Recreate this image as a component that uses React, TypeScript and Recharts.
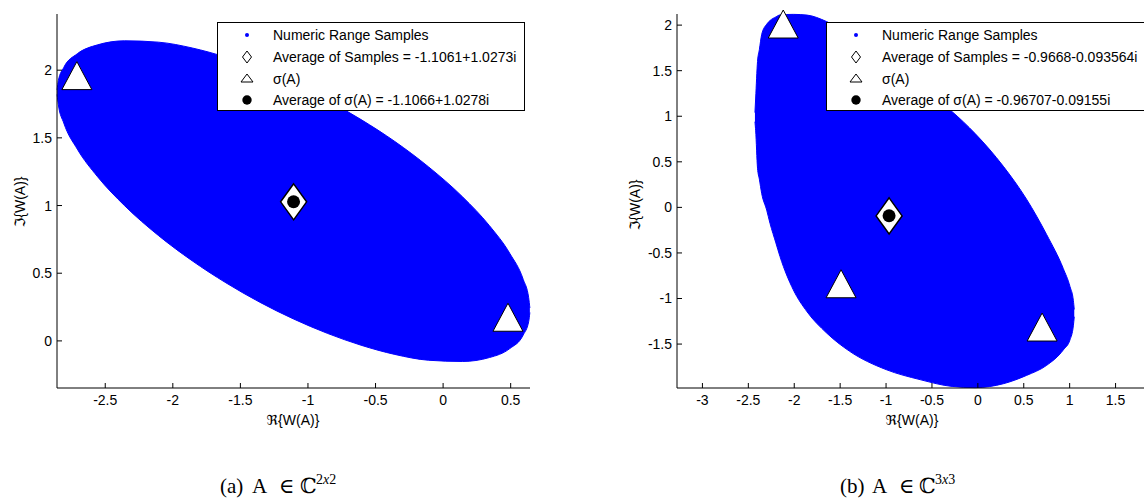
import React from 'react';
import { ComposedChart, Area, Scatter, XAxis, YAxis, Legend } from 'recharts';

// ---------------- Panel (a): A in C^{2x2} ----------------
const rangeAx = [-2.856, -2.847, -2.807, -2.707, -2.557, -2.357, -2.107, -1.857, -1.607, -1.357, -1.107, -0.857, -0.607, -0.357, -0.107, 0.143, 0.343, 0.493, 0.593, 0.633, 0.642];
const rangeAlow = [1.821, 1.744, 1.61, 1.417, 1.213, 0.999, 0.779, 0.592, 0.429, 0.286, 0.162, 0.056, -0.032, -0.1, -0.143, -0.152, -0.123, -0.057, 0.044, 0.141, 0.21];
const rangeAhigh = [1.854, 1.923, 2.02, 2.121, 2.187, 2.217, 2.207, 2.164, 2.096, 2.008, 1.902, 1.778, 1.635, 1.473, 1.285, 1.065, 0.851, 0.647, 0.454, 0.32, 0.243];
const eigAre = [-2.71, 0.48];
const eigAim = [1.945, 0.16];
const avgSamplesA = [-1.1061, 1.0273];
const avgEigA = [-1.1066, 1.0278];
const xTicksA = [-2.5, -2, -1.5, -1, -0.5, 0, 0.5];
const yTicksA = [0, 0.5, 1, 1.5, 2];
const xDomainA = [-2.857, 0.643];
const yDomainA = [-0.348, 2.415];
const legendLabelsA = [
  'Numeric Range Samples',
  'Average of Samples = -1.1061+1.0273i',
  'σ(A)',
  'Average of σ(A) = -1.1066+1.0278i',
];

// ---------------- Panel (b): A in C^{3x3} ----------------
const rangeBx = [-2.428, -2.42, -2.4, -2.38, -2.354, -2.3, -2.264, -2.2, -2.155, -2.01, -1.86, -1.65, -1.4, -1.0, -0.63, -0.28, -0.03, 0.278, 0.53, 0.75, 0.93, 1.004, 1.04, 1.05];
const rangeBlow = [0.94, 0.84, 0.43, 0.31, 0.15, -0.03, -0.175, -0.39, -0.54, -0.905, -1.146, -1.376, -1.577, -1.78, -1.89, -1.965, -1.978, -1.935, -1.844, -1.733, -1.565, -1.452, -1.3, -1.2];
const rangeBhigh = [1.04, 1.2, 1.6, 1.73, 1.9, 2.01, 2.05, 2.09, 2.112, 2.118, 2.11, 2.04, 1.9, 1.6, 1.32, 1.05, 0.81, 0.45, 0.09, -0.3, -0.67, -0.87, -1.02, -1.12];
const eigBre = [-2.12, -1.49, 0.7];
const eigBim = [1.99, -0.86, -1.335];
const avgSamplesB = [-0.9668, -0.093564];
const avgEigB = [-0.96707, -0.09155];
const xTicksB = [-3, -2.5, -2, -1.5, -1, -0.5, 0, 0.5, 1, 1.5];
const yTicksB = [-1.5, -1, -0.5, 0, 0.5, 1, 1.5, 2];
const xDomainB = [-3.277, 1.875];
const yDomainB = [-1.982, 2.122];
const legendLabelsB = [
  'Numeric Range Samples',
  'Average of Samples = -0.9668-0.093564i',
  'σ(A)',
  'Average of σ(A) = -0.96707-0.09155i',
];

const FONT = '"Liberation Sans", Arial, "DejaVu Sans", sans-serif';
const BLUE = '#0000ff';

const Triangle = (p: any) => {
  const { cx, cy } = p;
  return (
    <path
      d={`M${cx},${cy - 16} L${cx + 15},${cy + 12} L${cx - 15},${cy + 12} Z`}
      fill="#fff"
      stroke="#000"
      strokeWidth={1}
    />
  );
};

const Diamond = (p: any) => {
  const { cx, cy } = p;
  return (
    <path
      d={`M${cx},${cy - 18} L${cx + 13},${cy} L${cx},${cy + 18} L${cx - 13},${cy} Z`}
      fill="#fff"
      stroke="#000"
      strokeWidth={1.5}
    />
  );
};

const BlackDot = (p: any) => {
  const { cx, cy } = p;
  return <circle cx={cx} cy={cy} r={6.5} fill="#000" />;
};

const legendIcon = (i: number) => {
  if (i === 0) return <circle cx={10} cy={10} r={2} fill={BLUE} />;
  if (i === 1) return <path d="M10,4 L14.5,10 L10,16 L5.5,10 Z" fill="#fff" stroke="#000" strokeWidth={1} />;
  if (i === 2) return <path d="M10,5 L16,13 L4,13 Z" fill="#fff" stroke="#000" strokeWidth={1} />;
  return <circle cx={10} cy={10} r={4.7} fill="#000" />;
};

const rowCenters = [12, 34, 56, 77];

const LegendBox = ({ labels, w, h }: { labels: string[]; w: number; h: number }) => (
  <div
    style={{
      position: 'relative',
      width: w,
      height: h,
      boxSizing: 'border-box',
      border: '1px solid #000',
      background: '#fff',
      fontFamily: FONT,
      fontSize: 14,
      color: '#000',
    }}
  >
    {labels.map((lab, i) => (
      <div key={i} style={{ position: 'absolute', left: 0, top: rowCenters[i] - 10, height: 20, width: '100%' }}>
        <svg width={20} height={20} style={{ position: 'absolute', left: 19, top: 0 }}>
          {legendIcon(i)}
        </svg>
        <span style={{ position: 'absolute', left: 55, top: 0, lineHeight: '20px', whiteSpace: 'nowrap' }}>{lab}</span>
      </div>
    ))}
  </div>
);

type PanelProps = {
  left: number;
  width: number;
  height: number;
  yAxisWidth: number;
  xDomain: number[];
  yDomain: number[];
  xTicks: number[];
  yTicks: number[];
  rx: number[];
  rlow: number[];
  rhigh: number[];
  eigRe: number[];
  eigIm: number[];
  avgS: number[];
  avgE: number[];
  legendLabels: string[];
  legendLeft: number;
  legendWidth: number;
};

const Panel = (props: PanelProps) => {
  const areaData = props.rx.map((x, i) => ({ x, range: [props.rlow[i], props.rhigh[i]] }));
  const eigData = props.eigRe.map((x, i) => ({ x, y: props.eigIm[i] }));
  const avgSData = [{ x: props.avgS[0], y: props.avgS[1] }];
  const avgEData = [{ x: props.avgE[0], y: props.avgE[1] }];
  const tickStyle = { fill: '#000', fontSize: 14, fontFamily: FONT };
  const lineStyle = { stroke: '#000', strokeWidth: 1 };
  return (
    <div style={{ position: 'absolute', left: props.left, top: 0 }}>
      <ComposedChart
        width={props.width}
        height={props.height}
        data={areaData}
        margin={{ top: 14, right: 30, bottom: 0, left: 0 }}
      >
        <XAxis
          xAxisId="x"
          dataKey="x"
          type="number"
          orientation="bottom"
          domain={props.xDomain}
          ticks={props.xTicks}
          interval={0}
          height={52}
          tickSize={-5}
          tickMargin={12}
          tick={tickStyle}
          axisLine={lineStyle}
          tickLine={lineStyle}
        />
        <XAxis
          xAxisId="top"
          dataKey="x"
          type="number"
          orientation="top"
          domain={props.xDomain}
          allowDataOverflow
          ticks={props.xTicks}
          interval={0}
          height={0}
          tickSize={-5}
          tick={false}
          axisLine={lineStyle}
          tickLine={lineStyle}
        />
        <YAxis
          yAxisId="y"
          dataKey="y"
          type="number"
          orientation="left"
          domain={props.yDomain}
          ticks={props.yTicks}
          interval={0}
          width={props.yAxisWidth}
          tickSize={-5}
          tickMargin={10}
          tick={tickStyle}
          axisLine={lineStyle}
          tickLine={lineStyle}
        />
        <YAxis
          yAxisId="right"
          dataKey="y"
          type="number"
          orientation="right"
          domain={props.yDomain}
          allowDataOverflow
          ticks={props.yTicks}
          interval={0}
          width={0}
          tickSize={-5}
          tick={false}
          axisLine={lineStyle}
          tickLine={lineStyle}
        />
        <Area
          xAxisId="x"
          yAxisId="y"
          type="monotone"
          dataKey="range"
          stroke={BLUE}
          strokeWidth={1}
          fill={BLUE}
          fillOpacity={1}
          dot={false}
          activeDot={false}
          isAnimationActive={false}
        />
        <Scatter xAxisId="x" yAxisId="y" data={eigData} shape={Triangle} isAnimationActive={false} />
        <Scatter xAxisId="x" yAxisId="y" data={avgSData} shape={Diamond} isAnimationActive={false} />
        <Scatter xAxisId="x" yAxisId="y" data={avgEData} shape={BlackDot} isAnimationActive={false} />
        <Legend
          layout="horizontal"
          verticalAlign="middle"
          align="center"
          wrapperStyle={{ left: props.legendLeft, top: 22, width: props.legendWidth, height: 89 }}
          content={() => <LegendBox labels={props.legendLabels} w={props.legendWidth} h={89} />}
        />
      </ComposedChart>
    </div>
  );
};

const supStyle = { fontSize: 14 };

export default function App() {
  return (
    <div
      style={{
        position: 'absolute',
        left: 0,
        top: 0,
        width: 1144,
        height: 503,
        overflow: 'hidden',
        background: '#fff',
      }}
    >
      <Panel
        left={0}
        width={560}
        height={440}
        yAxisWidth={57}
        xDomain={xDomainA}
        yDomain={yDomainA}
        xTicks={xTicksA}
        yTicks={yTicksA}
        rx={rangeAx}
        rlow={rangeAlow}
        rhigh={rangeAhigh}
        eigRe={eigAre}
        eigIm={eigAim}
        avgS={avgSamplesA}
        avgE={avgEigA}
        legendLabels={legendLabelsA}
        legendLeft={217}
        legendWidth={308}
      />
      <Panel
        left={600}
        width={580}
        height={440}
        yAxisWidth={77}
        xDomain={xDomainB}
        yDomain={yDomainB}
        xTicks={xTicksB}
        yTicks={yTicksB}
        rx={rangeBx}
        rlow={rangeBlow}
        rhigh={rangeBhigh}
        eigRe={eigBre}
        eigIm={eigBim}
        avgS={avgSamplesB}
        avgE={avgEigB}
        legendLabels={legendLabelsB}
        legendLeft={226}
        legendWidth={320}
      />
      <svg
        width={1144}
        height={503}
        style={{ position: 'absolute', left: 0, top: 0, pointerEvents: 'none' }}
      >
        <g fontFamily={FONT} fontSize={14} fill="#000">
          <text x={20} y={202} textAnchor="middle" dominantBaseline="central" transform="rotate(-90 20 202)">
            ℑ{'{'}W(A){'}'}
          </text>
          <text x={635} y={205} textAnchor="middle" dominantBaseline="central" transform="rotate(-90 635 205)">
            ℑ{'{'}W(A){'}'}
          </text>
          <text x={293} y={420} textAnchor="middle" dominantBaseline="central">
            ℜ{'{'}W(A){'}'}
          </text>
          <text x={912} y={420} textAnchor="middle" dominantBaseline="central">
            ℜ{'{'}W(A){'}'}
          </text>
        </g>
        <g fontFamily='"Liberation Serif", "DejaVu Serif", serif' fontSize={21} fill="#000">
          <text y={493}>
            <tspan x={220}>(a) </tspan>
            <tspan x={252}>A </tspan>
            <tspan x={279}>∈ </tspan>
            <tspan x={300}>ℂ</tspan>
            <tspan x={316} dy={-9} style={supStyle}>2</tspan>
            <tspan fontStyle="italic" style={supStyle}>x</tspan>
            <tspan style={supStyle}>2</tspan>
          </text>
          <text y={493}>
            <tspan x={840}>(b) </tspan>
            <tspan x={872}>A </tspan>
            <tspan x={899}>∈ </tspan>
            <tspan x={919}>ℂ</tspan>
            <tspan x={935} dy={-9} style={supStyle}>3</tspan>
            <tspan fontStyle="italic" style={supStyle}>x</tspan>
            <tspan style={supStyle}>3</tspan>
          </text>
        </g>
      </svg>
    </div>
  );
}
